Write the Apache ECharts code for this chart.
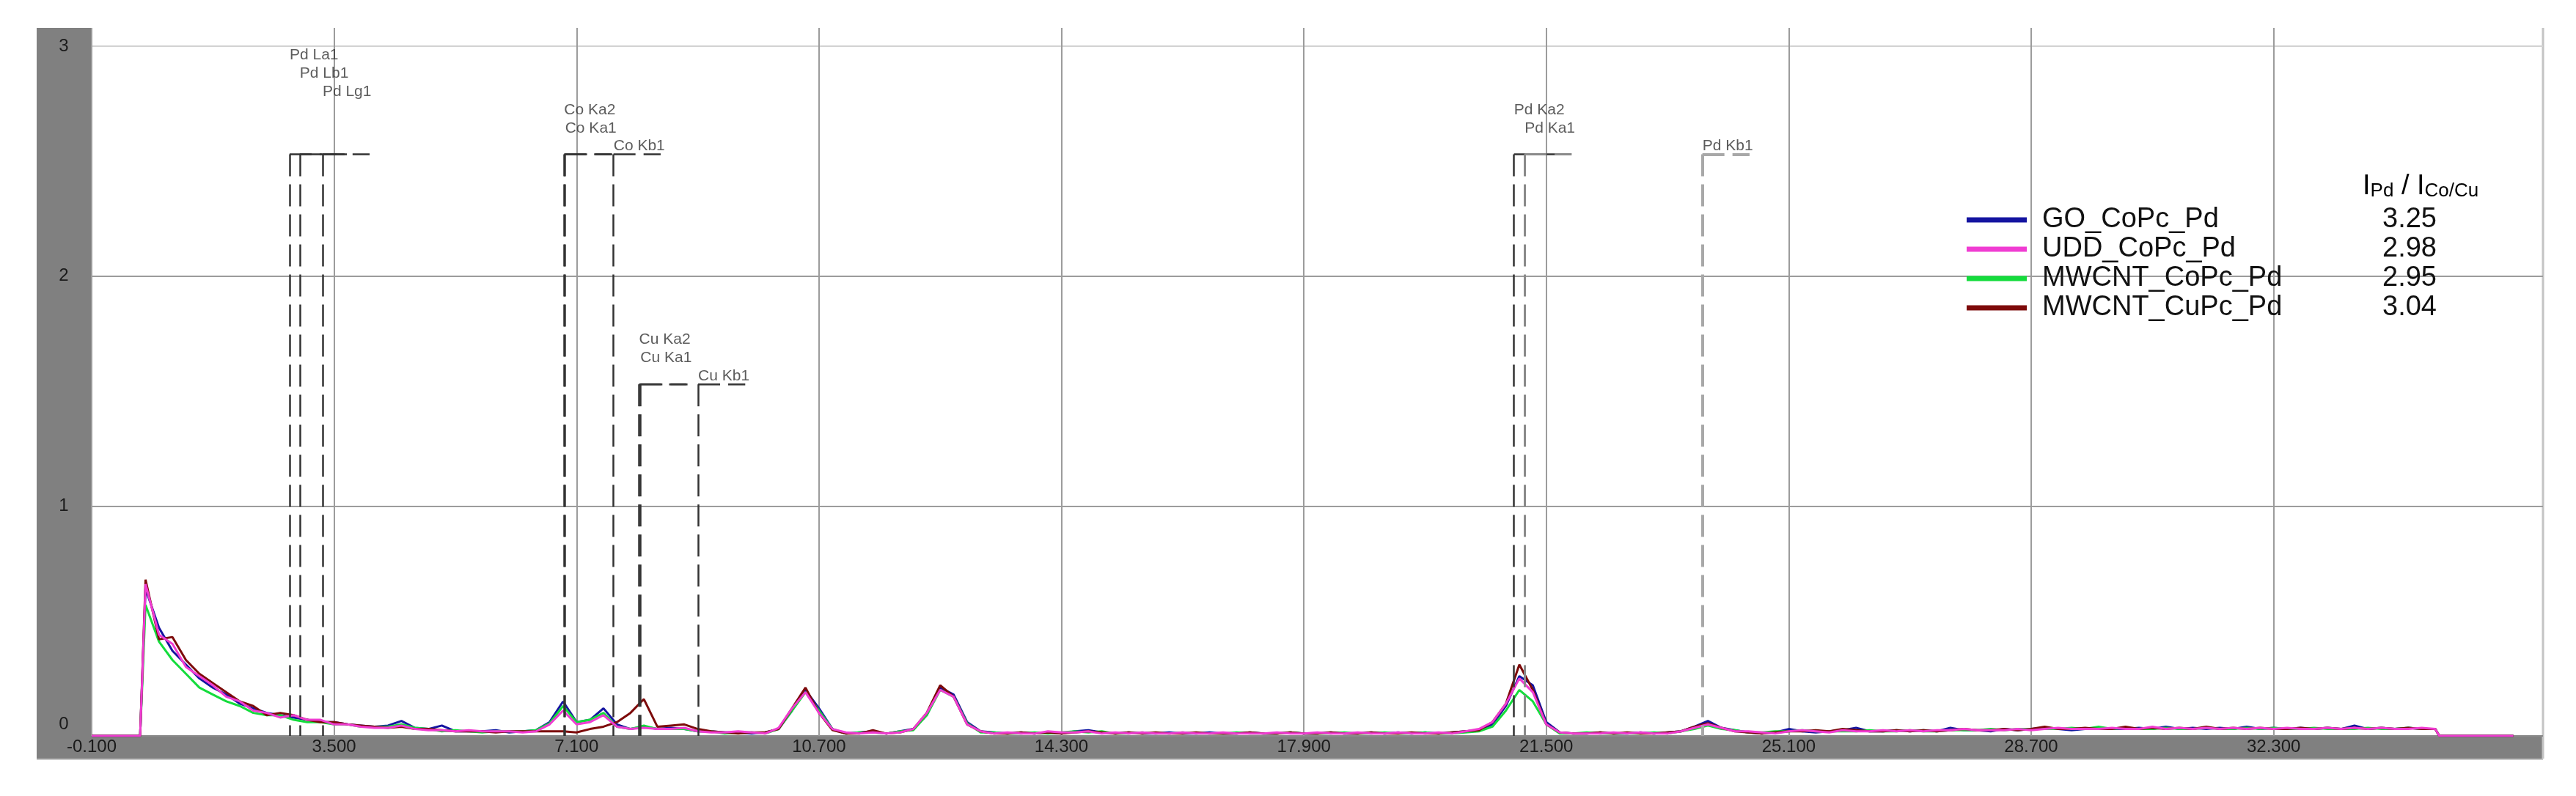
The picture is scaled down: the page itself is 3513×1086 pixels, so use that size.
<!DOCTYPE html>
<html>
<head>
<meta charset="utf-8">
<title>XRF spectra</title>
<script src="https://cdn.jsdelivr.net/npm/echarts@6/dist/echarts.min.js"></script>
<style>
    html, body { margin: 0; padding: 0; background: #fff; }
    #chart { width: 3513px; height: 1086px; }
</style>
</head>
<body>
<div id="chart"></div>
<script>
// spectra are sampled every 0.2 keV from 0.7 keV
const energyStart = 0.7
const energyStep = 0.2
const edgeLow = [-0.1, 0.62]     // flat zero before the detector edge
const edgeHigh = [34.76, 35.86]  // flat zero after the end of the data

const sampleNames = ["GO_CoPc_Pd", "UDD_CoPc_Pd", "MWCNT_CoPc_Pd", "MWCNT_CuPc_Pd"]
const ratios = ["3.25", "2.98", "2.95", "3.04"]

const goCoPc = [
    0.64, 0.47, 0.37, 0.31, 0.25,
    0.21, 0.18, 0.14, 0.12, 0.10,
    0.09, 0.08, 0.07, 0.06, 0.06,
    0.05, 0.045, 0.04, 0.045, 0.065,
    0.035, 0.03, 0.045, 0.02, 0.02,
    0.02, 0.025, 0.015, 0.02, 0.025,
    0.06, 0.15, 0.06, 0.07, 0.12,
    0.05, 0.03, 0.04, 0.03, 0.035,
    0.03, 0.02, 0.02, 0.015, 0.015,
    0.01, 0.015, 0.03, 0.11, 0.20,
    0.12, 0.03, 0.01, 0.015, 0.02,
    0.01, 0.02, 0.03, 0.09, 0.21,
    0.18, 0.06, 0.02, 0.015, 0.01,
    0.015, 0.01, 0.015, 0.01, 0.02,
    0.025, 0.015, 0.01, 0.015, 0.01,
    0.01, 0.015, 0.01, 0.01, 0.015,
    0.01, 0.01, 0.015, 0.01, 0.01,
    0.015, 0.01, 0.01, 0.015, 0.01,
    0.01, 0.015, 0.01, 0.015, 0.01,
    0.015, 0.01, 0.015, 0.02, 0.025,
    0.05, 0.13, 0.26, 0.22, 0.06,
    0.015, 0.01, 0.01, 0.015, 0.01,
    0.01, 0.015, 0.01, 0.015, 0.02,
    0.04, 0.065, 0.035, 0.025, 0.015,
    0.01, 0.015, 0.03, 0.02, 0.015,
    0.02, 0.025, 0.035, 0.02, 0.02,
    0.025, 0.02, 0.025, 0.02, 0.035,
    0.025, 0.025, 0.02, 0.03, 0.025,
    0.03, 0.035, 0.03, 0.025, 0.03,
    0.035, 0.03, 0.03, 0.035, 0.03,
    0.04, 0.03, 0.035, 0.03, 0.035,
    0.03, 0.04, 0.03, 0.035, 0.03,
    0.035, 0.03, 0.035, 0.03, 0.045,
    0.03, 0.035, 0.03, 0.035, 0.03,
    0.03
]

const uddCoPc = [
    0.66, 0.44, 0.40, 0.30, 0.26,
    0.22, 0.17, 0.15, 0.11, 0.10,
    0.08, 0.09, 0.07, 0.07, 0.05,
    0.05, 0.04, 0.035, 0.035, 0.045,
    0.03, 0.025, 0.025, 0.02, 0.025,
    0.02, 0.02, 0.02, 0.015, 0.02,
    0.05, 0.11, 0.05, 0.06, 0.09,
    0.04, 0.03, 0.035, 0.03, 0.03,
    0.035, 0.02, 0.015, 0.015, 0.02,
    0.015, 0.01, 0.035, 0.12, 0.19,
    0.10, 0.03, 0.015, 0.01, 0.015,
    0.01, 0.015, 0.03, 0.10, 0.20,
    0.17, 0.05, 0.02, 0.01, 0.015,
    0.01, 0.01, 0.02, 0.015, 0.015,
    0.02, 0.01, 0.015, 0.01, 0.015,
    0.01, 0.01, 0.015, 0.01, 0.01,
    0.015, 0.01, 0.01, 0.01, 0.015,
    0.01, 0.01, 0.015, 0.01, 0.01,
    0.015, 0.01, 0.01, 0.015, 0.01,
    0.01, 0.015, 0.01, 0.02, 0.03,
    0.06, 0.14, 0.25, 0.19, 0.05,
    0.015, 0.01, 0.01, 0.01, 0.015,
    0.01, 0.015, 0.01, 0.01, 0.02,
    0.035, 0.05, 0.035, 0.02, 0.02,
    0.015, 0.01, 0.02, 0.025, 0.02,
    0.015, 0.025, 0.02, 0.02, 0.025,
    0.02, 0.025, 0.02, 0.025, 0.025,
    0.03, 0.025, 0.025, 0.025, 0.03,
    0.025, 0.03, 0.035, 0.03, 0.03,
    0.03, 0.035, 0.03, 0.03, 0.04,
    0.03, 0.035, 0.03, 0.035, 0.03,
    0.035, 0.03, 0.035, 0.03, 0.035,
    0.03, 0.03, 0.035, 0.03, 0.035,
    0.03, 0.035, 0.03, 0.03, 0.035,
    0.03
]

const mwcntCoPc = [
    0.57, 0.41, 0.33, 0.27, 0.21,
    0.18, 0.15, 0.13, 0.10, 0.09,
    0.09, 0.07, 0.06, 0.06, 0.05,
    0.05, 0.04, 0.04, 0.04, 0.05,
    0.035, 0.03, 0.02, 0.025, 0.02,
    0.015, 0.02, 0.02, 0.02, 0.025,
    0.055, 0.13, 0.06, 0.07, 0.10,
    0.04, 0.03, 0.045, 0.03, 0.03,
    0.03, 0.02, 0.02, 0.01, 0.015,
    0.015, 0.01, 0.03, 0.11, 0.19,
    0.11, 0.03, 0.01, 0.015, 0.015,
    0.01, 0.02, 0.025, 0.09, 0.20,
    0.17, 0.055, 0.015, 0.015, 0.01,
    0.01, 0.015, 0.01, 0.015, 0.02,
    0.015, 0.02, 0.01, 0.01, 0.015,
    0.01, 0.01, 0.015, 0.01, 0.01,
    0.01, 0.015, 0.01, 0.01, 0.01,
    0.015, 0.01, 0.01, 0.01, 0.015,
    0.01, 0.01, 0.015, 0.01, 0.01,
    0.015, 0.01, 0.01, 0.015, 0.02,
    0.04, 0.11, 0.20, 0.15, 0.05,
    0.01, 0.01, 0.015, 0.01, 0.01,
    0.01, 0.01, 0.015, 0.01, 0.02,
    0.03, 0.045, 0.03, 0.025, 0.015,
    0.015, 0.02, 0.02, 0.025, 0.02,
    0.02, 0.02, 0.02, 0.025, 0.02,
    0.02, 0.025, 0.02, 0.02, 0.025,
    0.025, 0.025, 0.03, 0.025, 0.03,
    0.03, 0.03, 0.03, 0.035, 0.03,
    0.04, 0.03, 0.035, 0.03, 0.03,
    0.035, 0.03, 0.03, 0.035, 0.03,
    0.03, 0.035, 0.03, 0.035, 0.03,
    0.03, 0.035, 0.03, 0.03, 0.03,
    0.035, 0.03, 0.03, 0.035, 0.03,
    0.03
]

const mwcntCuPc = [
    0.68, 0.42, 0.43, 0.33, 0.27,
    0.23, 0.19, 0.15, 0.13, 0.09,
    0.10, 0.09, 0.07, 0.06, 0.06,
    0.05, 0.045, 0.04, 0.035, 0.04,
    0.03, 0.03, 0.025, 0.02, 0.02,
    0.02, 0.015, 0.02, 0.02, 0.02,
    0.02, 0.02, 0.015, 0.03, 0.04,
    0.06, 0.10, 0.16, 0.04, 0.045,
    0.05, 0.03, 0.02, 0.015, 0.01,
    0.015, 0.015, 0.03, 0.12, 0.21,
    0.10, 0.025, 0.01, 0.01, 0.025,
    0.01, 0.015, 0.03, 0.10, 0.22,
    0.17, 0.05, 0.02, 0.01, 0.01,
    0.015, 0.01, 0.015, 0.01, 0.015,
    0.02, 0.015, 0.01, 0.015, 0.01,
    0.015, 0.01, 0.01, 0.015, 0.01,
    0.01, 0.01, 0.015, 0.01, 0.01,
    0.015, 0.01, 0.01, 0.015, 0.01,
    0.01, 0.015, 0.01, 0.01, 0.015,
    0.01, 0.01, 0.015, 0.02, 0.025,
    0.06, 0.14, 0.31, 0.20, 0.05,
    0.015, 0.01, 0.01, 0.015, 0.01,
    0.015, 0.01, 0.01, 0.015, 0.02,
    0.04, 0.055, 0.035, 0.02, 0.015,
    0.01, 0.015, 0.02, 0.02, 0.025,
    0.02, 0.03, 0.025, 0.02, 0.02,
    0.025, 0.02, 0.025, 0.02, 0.025,
    0.03, 0.025, 0.025, 0.03, 0.025,
    0.03, 0.04, 0.03, 0.03, 0.035,
    0.03, 0.03, 0.04, 0.03, 0.035,
    0.03, 0.035, 0.03, 0.04, 0.03,
    0.035, 0.03, 0.035, 0.03, 0.03,
    0.035, 0.03, 0.035, 0.03, 0.035,
    0.03, 0.035, 0.03, 0.035, 0.03,
    0.03
]

// emission line markers
const elemNames = ["Pd La1", "Pd Lb1", "Pd Lg1", "Co Ka2", "Co Ka1", "Co Kb1",
    "Cu Ka2", "Cu Ka1", "Cu Kb1", "Pd Ka2", "Pd Ka1", "Pd Kb1"]
const elemEnergies = [2.839, 2.990, 3.328, 6.915, 6.930, 7.649, 8.028, 8.048, 8.905, 21.020, 21.177, 23.818]
const elemHeights = [2.53, 2.53, 2.53, 2.53, 2.53, 2.53, 1.53, 1.53, 1.53, 2.53, 2.53, 2.53]
const elemLevels = [5, 4, 3, 2, 1, 0, 2, 1, 0, 2, 1, 0]

const xTickLabels = ["-0.100", "3.500", "7.100", "10.700", "14.300", "17.900", "21.500", "25.100", "28.700", "32.300"]
const yTickLabels = ["0", "1", "2", "3"]

// axis runs in (keV + 0.1) so that the ticks start at the -0.100 edge
const xShift = 0.1
const narrow = "'Liberation Sans Narrow', 'Arial Narrow', 'Liberation Sans', sans-serif"
const plain = "'Liberation Sans', Arial, sans-serif"
const colors = ["#1414a0", "#f03cd2", "#14dc3c", "#7d0a0a"]
const spectra = [goCoPc, uddCoPc, mwcntCoPc, mwcntCuPc]

function buildPoints(values) {
    let pts = [[edgeLow[0] + xShift, 0], [edgeLow[1] + xShift, 0]]
    values.forEach((v, i) => {
        pts.push([energyStart + energyStep * i + xShift, v])
    })
    pts.push([edgeHigh[0] + xShift, 0], [edgeHigh[1] + xShift, 0])
    return pts
}

function markerStyle(name) {
    if (name === "Pd Kb1") return { color: "#a8a8a8", width: 4 }
    if (name === "Pd Ka1") return { color: "#8a8a8a", width: 3 }
    return { color: "#333", width: 2.5 }
}

let markLines = []
let markLabels = []
elemNames.forEach((name, i) => {
    const u = elemEnergies[i] + xShift
    const top = elemHeights[i]
    const st = markerStyle(name)
    const style = { color: st.color, width: st.width, type: [30, 11] }
    markLines.push([{ coord: [u, top], lineStyle: style }, { coord: [u, 0] }])
    markLines.push([{ coord: [u, top], lineStyle: style }, { coord: [u + 0.7, top] }])
    markLabels.push({ name: name, value: [u, top + 0.035 + elemLevels[i] * 0.079] })
})

// draw order: magenta ends up on top, legend keeps the original order
const drawOrder = [0, 2, 3, 1]
let series = drawOrder.map(k => ({
    name: sampleNames[k],
    type: "line",
    data: buildPoints(spectra[k]),
    symbol: "none",
    lineStyle: { color: colors[k], width: 3 },
    itemStyle: { color: colors[k] },
    z: 2
}))

series.push({
    name: "lines",
    type: "scatter",
    data: markLabels,
    symbolSize: 0.1,
    itemStyle: { color: "rgba(0,0,0,0)" },
    silent: true,
    z: 4,
    label: {
        show: true,
        position: "right",
        distance: 0,
        formatter: "{b}",
        fontFamily: narrow,
        fontSize: 21,
        color: "#333"
    },
    markLine: {
        silent: true,
        symbol: ["none", "none"],
        label: { show: false },
        emphasis: { disabled: true },
        data: markLines
    }
})

const xTickValues = xTickLabels.map(t => +t + xShift)
const yTickValues = yTickLabels.map(t => +t)

let myChart = echarts.init(document.getElementById("chart"))
myChart.setOption({
    animation: false,
    backgroundColor: "#fff",
    grid: { left: 125, right: 45, top: 38, bottom: 82, outerBoundsMode: "none" },
    xAxis: {
        type: "value",
        min: 0,
        max: 36.4,
        axisLine: { show: false },
        axisTick: { show: false, customValues: xTickValues },
        axisLabel: {
            customValues: xTickValues,
            formatter: v => (v - xShift).toFixed(3),
            margin: 3,
            fontFamily: narrow,
            fontSize: 24,
            color: "#1a1a1a"
        },
        splitLine: { show: true, lineStyle: { color: "#9c9c9c", width: 2 } }
    },
    yAxis: {
        type: "value",
        min: 0,
        max: 3.08,
        axisLine: { show: false },
        axisTick: { show: false, customValues: yTickValues },
        axisLabel: {
            customValues: yTickValues,
            formatter: v => v === 0 ? "{z|0}" : String(v),
            align: "center",
            margin: 38,
            fontFamily: narrow,
            fontSize: 24,
            color: "#1a1a1a",
            rich: {
                z: { padding: [0, 0, 32, 0], fontFamily: narrow, fontSize: 24, color: "#1a1a1a" }
            }
        },
        splitLine: {
            show: true,
            lineStyle: { color: ["#8a8a8a", "#9c9c9c", "#9c9c9c", "#d2d2d2"], width: 2 }
        }
    },
    legend: {
        data: sampleNames,
        orient: "vertical",
        left: 2682,
        top: 280,
        padding: 0,
        itemGap: 0,
        itemWidth: 82,
        itemHeight: 7,
        icon: "rect",
        selectedMode: false,
        formatter: name => "{n|" + name + "}{v|" + ratios[sampleNames.indexOf(name)] + "}",
        textStyle: {
            fontFamily: plain,
            fontSize: 38,
            lineHeight: 40,
            color: "#111",
            rich: {
                n: { fontFamily: plain, fontSize: 38, lineHeight: 40, color: "#111", width: 464, padding: [0, 0, 0, 16] },
                v: { fontFamily: plain, fontSize: 38, lineHeight: 40, color: "#111" }
            }
        }
    },
    graphic: [
        { type: "rect", z: -10, shape: { x: 50, y: 38, width: 75, height: 997 }, style: { fill: "#808080" } },
        { type: "rect", z: -10, shape: { x: 50, y: 1004, width: 3418, height: 31 }, style: { fill: "#808080" } },
        { type: "line", z: -5, shape: { x1: 3468, y1: 38, x2: 3468, y2: 1035 }, style: { stroke: "#c4c4c4", lineWidth: 3 } },
        { type: "line", z: -5, shape: { x1: 50, y1: 1036, x2: 3468, y2: 1036 }, style: { stroke: "#c8c8c8", lineWidth: 2 } },
        {
            type: "text",
            left: 3222,
            top: 236,
            style: {
                text: "{b|I}{s|Pd}{b| / I}{s|Co/Cu}",
                rich: {
                    b: { fontFamily: plain, fontSize: 38, color: "#111", verticalAlign: "bottom" },
                    s: { fontFamily: plain, fontSize: 26, color: "#111", verticalAlign: "bottom" }
                }
            }
        }
    ],
    series: series
})
</script>
</body>
</html>
